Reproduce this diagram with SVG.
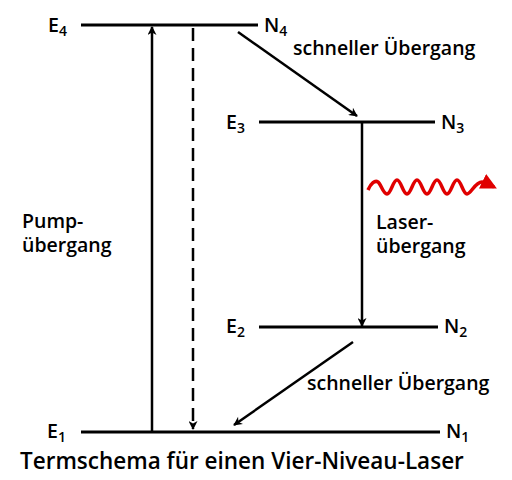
<svg xmlns="http://www.w3.org/2000/svg" width="512" height="480" viewBox="0 0 512 480">
<style>
text{font-family:"Open Sans","Noto Sans","Liberation Sans",sans-serif;fill:#000;font-weight:600}
.lbl{font-size:19.5px}
.sub{font-size:14px}
.lvl{stroke:#000;stroke-width:3;fill:none}
.arr{stroke:#000;stroke-width:2.5;fill:none}
</style>
<defs>
<marker id="ah" viewBox="0 0 10 10" refX="9" refY="5" markerWidth="10" markerHeight="9" orient="auto" markerUnits="userSpaceOnUse">
<path d="M0,0 L10,5 L0,10 L3,5 Z" fill="#000"/>
</marker>
<marker id="ahr" viewBox="0 0 10 10" refX="8" refY="5" markerWidth="16" markerHeight="16" orient="auto" markerUnits="userSpaceOnUse">
<path d="M0,0 L10,5 L0,10 Z" fill="#e00000"/>
</marker>
</defs>
<rect width="512" height="480" fill="#fff"/>
<g id="E4">
<line class="lvl" x1="81" y1="25" x2="258" y2="25"/>
<text class="lbl" x="48" y="32">E<tspan class="sub" dy="4">4</tspan></text>
<text class="lbl" x="264" y="32">N<tspan class="sub" dy="4">4</tspan></text>
</g>
<g id="E3">
<line class="lvl" x1="259" y1="122" x2="435" y2="122"/>
<text class="lbl" x="226" y="129">E<tspan class="sub" dy="4">3</tspan></text>
<text class="lbl" x="441" y="129">N<tspan class="sub" dy="4">3</tspan></text>
</g>
<g id="E2">
<line class="lvl" x1="259" y1="327" x2="438" y2="327"/>
<text class="lbl" x="226" y="333">E<tspan class="sub" dy="4">2</tspan></text>
<text class="lbl" x="444" y="333">N<tspan class="sub" dy="4">2</tspan></text>
</g>
<g id="E1">
<line class="lvl" x1="81" y1="432" x2="440" y2="432"/>
<text class="lbl" x="47" y="438">E<tspan class="sub" dy="4">1</tspan></text>
<text class="lbl" x="446" y="438">N<tspan class="sub" dy="4">1</tspan></text>
</g>
<g id="connectors">
<line class="arr" x1="152" y1="432" x2="152" y2="27" marker-end="url(#ah)"/>
<line class="arr" x1="193" y1="28" x2="193" y2="429" stroke-dasharray="13,7" marker-end="url(#ah)"/>
<line class="arr" x1="238" y1="32" x2="357" y2="116" marker-end="url(#ah)"/>
<line class="arr" x1="362" y1="123" x2="362" y2="326" marker-end="url(#ah)"/>
<line class="arr" x1="353" y1="342" x2="234" y2="425" marker-end="url(#ah)"/>
<path d="M368,190 C371,183 375,180 378,182 C381,184 383,194 387,194 C391,194 393,180 397,180 C401,180 403,194 407,194 C411,194 413,180 417,180 C421,180 423,194 427,194 C431,194 433,180 437,180 C441,180 443,194 447,194 C451,194 453,180 457,180 C461,180 463,194 467,194 C471,194 475,182 482,182 C487,182 490,185 494,187" fill="none" stroke="#e00000" stroke-width="3.5" marker-end="url(#ahr)"/>
</g>
<g id="labels">
<text class="lbl" x="293" y="55">schneller Übergang</text>
<text class="lbl" x="307" y="390">schneller Übergang</text>
<text class="lbl" x="22" y="228">Pump-</text>
<text class="lbl" x="22" y="252">übergang</text>
<text class="lbl" x="376" y="229">Laser-</text>
<text class="lbl" x="376" y="253">übergang</text>
<text x="20" y="469" font-size="22.5">Termschema für einen Vier-Niveau-Laser</text>
</g>
</svg>
